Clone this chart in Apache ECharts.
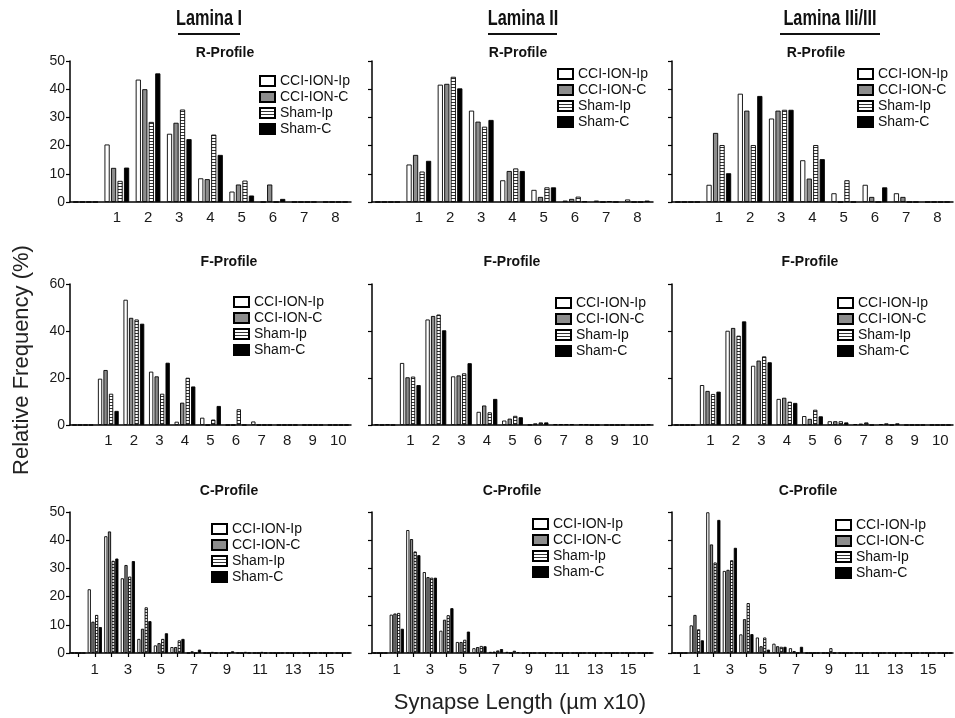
<!DOCTYPE html>
<html>
<head>
<meta charset="utf-8">
<title>Synapse length distributions</title>
<script src="https://cdn.jsdelivr.net/npm/echarts@6/dist/echarts.min.js"></script>
<style>
    html, body { margin: 0; padding: 0; background: #fff; }
    #chart { width: 955px; height: 718px; }
</style>
</head>
<body>
<div id="chart"></div>
<script>
// ---- data ----
const seriesNames = ['CCI-ION-Ip', 'CCI-ION-C', 'Sham-Ip', 'Sham-C'];
const laminaTitles = ['Lamina I', 'Lamina II', 'Lamina IIi/III'];
const profileTitles = ['R-Profile', 'F-Profile', 'C-Profile'];

const rCategories = ['0', '1', '2', '3', '4', '5', '6', '7', '8'];
const fCategories = ['0', '1', '2', '3', '4', '5', '6', '7', '8', '9', '10'];
const cCategories = ['0', '1', '2', '3', '4', '5', '6', '7', '8', '9', '10', '11', '12', '13', '14', '15', '16'];

const rYTicks = [0, 10, 20, 30, 40, 50];
const fYTicks = [0, 20, 40, 60];
const cYTicks = [0, 10, 20, 30, 40, 50];

// each panel: rows in the order of seriesNames
const rLaminaI = [
    [0, 20.4, 43.4, 24.2, 8.4, 3.7, 0, 0, 0],
    [0, 12.1, 40.0, 28.1, 8.1, 6.2, 6.2, 0, 0],
    [0, 7.5, 28.4, 32.8, 23.9, 7.6, 0, 0, 0],
    [0, 12.2, 45.6, 22.3, 16.7, 2.3, 1.1, 0, 0]
];
const rLaminaII = [
    [0, 13.3, 41.6, 32.4, 7.7, 4.3, 0.5, 0.5, 0.9],
    [0, 16.7, 41.9, 28.5, 11.0, 1.8, 1.1, 0, 0],
    [0, 10.8, 44.4, 26.7, 11.9, 5.2, 1.9, 0.3, 0],
    [0, 14.6, 40.3, 29.1, 11.0, 5.2, 0.2, 0, 0.5]
];
const rLaminaIII = [
    [0, 6.1, 38.4, 29.6, 14.8, 3.1, 6.1, 3.1, 0],
    [0, 24.5, 32.4, 32.4, 8.3, 0, 1.8, 1.8, 0],
    [0, 20.2, 20.2, 32.7, 20.2, 7.7, 0, 0, 0],
    [0, 10.2, 37.6, 32.7, 15.2, 0, 5.2, 0, 0]
];

const fLaminaI = [
    [0, 19.7, 53.3, 22.7, 1.4, 3.1, 0, 1.5, 0, 0, 0],
    [0, 23.4, 45.6, 20.7, 9.5, 0, 0, 0, 0, 0, 0],
    [0, 13.3, 44.9, 13.3, 20.1, 2.3, 6.7, 0, 0, 0, 0],
    [0, 6.0, 43.1, 26.5, 16.4, 8.1, 0, 0, 0, 0, 0]
];
const fLaminaII = [
    [0.2, 26.4, 44.9, 20.7, 5.6, 1.9, 0.1, 0.3, 0.3, 0, 0],
    [0, 20.3, 46.4, 21.1, 8.3, 2.7, 0.7, 0.3, 0.2, 0, 0],
    [0.2, 20.6, 47.0, 22.0, 5.4, 3.9, 1.1, 0.3, 0, 0, 0],
    [0, 17.0, 40.3, 26.3, 11.1, 3.3, 1.1, 0.3, 0, 0, 0.3]
];
const fLaminaIII = [
    [0, 17.0, 40.1, 25.2, 11.1, 3.8, 1.6, 0.4, 0.4, 0, 0],
    [0, 14.5, 41.3, 27.4, 11.6, 2.6, 1.6, 0.6, 0.7, 0, 0],
    [0, 13.2, 38.0, 29.2, 9.9, 6.5, 1.6, 1.1, 0, 0, 0],
    [0, 14.2, 44.1, 26.7, 9.4, 3.7, 1.1, 0, 0.7, 0, 0]
];

const cLaminaI = [
    [0, 22.6, 41.4, 26.5, 5.0, 2.7, 2.1, 0, 0, 0, 0, 0, 0, 0, 0, 0, 0],
    [0, 11.1, 43.1, 31.2, 8.6, 3.5, 2.1, 0.6, 0, 0, 0, 0, 0, 0, 0, 0, 0],
    [0, 13.5, 32.7, 27.1, 16.2, 5.0, 4.5, 0, 0.4, 0, 0.4, 0.4, 0, 0, 0, 0, 0],
    [0, 9.2, 33.5, 32.6, 11.3, 7.0, 5.0, 1.2, 0, 0.6, 0, 0, 0, 0, 0, 0, 0]
];
const cLaminaII = [
    [0, 13.6, 43.6, 28.7, 7.9, 3.9, 1.7, 0.4, 0.4, 0, 0, 0, 0, 0, 0, 0, 0],
    [0, 14.0, 40.4, 26.9, 11.8, 3.9, 2.1, 0.5, 0, 0.2, 0, 0, 0, 0, 0, 0, 0],
    [0, 14.2, 36.0, 26.7, 13.4, 4.7, 2.5, 0.9, 0.8, 0, 0.3, 0, 0, 0, 0, 0, 0],
    [0, 8.6, 34.7, 26.7, 15.9, 7.6, 2.4, 1.4, 0.3, 0, 0, 0, 0, 0, 0, 0, 0]
];
const cLaminaIII = [
    [0, 9.8, 49.9, 29.1, 6.6, 5.5, 3.3, 1.7, 0, 0, 0, 0, 0, 0, 0, 0, 0],
    [0, 13.5, 38.5, 29.5, 12.0, 2.4, 2.4, 0.7, 0, 0, 0, 0, 0, 0, 0, 0, 0],
    [0, 8.4, 32.1, 32.9, 17.7, 5.5, 2.2, 0, 0, 1.7, 0, 0, 0, 0, 0, 0, 0],
    [0, 4.5, 47.2, 37.3, 6.7, 1.2, 2.2, 2.2, 0, 0, 0, 0, 0, 0, 0, 0, 0]
];

// ---- layout ----
const FONT = '"Liberation Sans", Arial, sans-serif';
const colLeft = [70, 372, 672];
const rowTop = [61, 284, 512];
const gridW = 281;
const gridH = 141;

const rows = [
    { cats: rCategories, ticks: rYTicks, data: [rLaminaI, rLaminaII, rLaminaIII], barW: 5.2, gap: '25%', xTicks: false, label: i => i > 0 },
    { cats: fCategories, ticks: fYTicks, data: [fLaminaI, fLaminaII, fLaminaIII], barW: 4.3, gap: '28%', xTicks: false, label: i => i > 0 },
    { cats: cCategories, ticks: cYTicks, data: [cLaminaI, cLaminaII, cLaminaIII], barW: 3.2, gap: '15%', xTicks: true, label: i => i % 2 === 1 }
];

// where the profile titles and legends sit in each panel
const titleX = [[225, 518, 816], [229, 512, 810], [229, 512, 808]];
const titleY = [53, 262, 491];
const legendPos = [
    [[259, 74], [557, 67], [857, 67]],
    [[233, 295], [555, 296], [837, 296]],
    [[211, 522], [532, 517], [835, 518]]
];

function stripePattern() {
    const c = document.createElement('canvas');
    c.width = 4;
    c.height = 3;
    const ctx = c.getContext('2d');
    ctx.fillStyle = '#fff';
    ctx.fillRect(0, 0, 4, 3);
    ctx.fillStyle = '#333';
    ctx.fillRect(0, 0, 4, 1);
    return c;
}

const fills = ['#ffffff', '#8c8c8c', { image: stripePattern(), repeat: 'repeat' }, '#000000'];

let grids = [], xAxes = [], yAxes = [], series = [], legends = [], graphics = [];

rows.forEach((row, r) => {
    for (let c = 0; c < 3; c++) {
        const gi = r * 3 + c;
        const yMax = row.ticks[row.ticks.length - 1];
        const yStep = row.ticks[1] - row.ticks[0];

        grids.push({ left: colLeft[c], top: rowTop[r], width: gridW, height: gridH });

        xAxes.push({
            type: 'category',
            gridIndex: gi,
            data: row.cats,
            boundaryGap: true,
            axisLine: { lineStyle: { color: '#000', width: 1.5 } },
            axisTick: { show: row.xTicks, alignWithLabel: true, interval: 0, length: 4, lineStyle: { color: '#000', width: 1.2 } },
            axisLabel: { interval: row.label, color: '#1a1a1a', fontSize: 15, fontFamily: FONT, margin: row.xTicks ? 9 : 8 },
            splitLine: { show: false }
        });

        yAxes.push({
            type: 'value',
            gridIndex: gi,
            min: 0,
            max: yMax,
            interval: yStep,
            axisLine: { show: true, lineStyle: { color: '#000', width: 1.5 } },
            axisTick: { show: true, length: 4, lineStyle: { color: '#000', width: 1.2 } },
            axisLabel: { show: c === 0, color: '#1a1a1a', fontSize: 14, fontFamily: FONT, margin: 5 },
            splitLine: { show: false }
        });

        row.data[c].forEach((vals, si) => {
            series.push({
                name: seriesNames[si],
                type: 'bar',
                xAxisIndex: gi,
                yAxisIndex: gi,
                data: vals,
                barWidth: row.barW,
                barGap: row.gap,
                itemStyle: { color: fills[si], borderColor: '#000', borderWidth: 0.9 }
            });
        });

        legends.push({
            data: seriesNames,
            orient: 'vertical',
            left: legendPos[r][c][0],
            top: legendPos[r][c][1],
            padding: 0,
            icon: 'rect',
            itemWidth: 15,
            itemHeight: 10,
            itemGap: 2,
            selectedMode: false,
            textStyle: { color: '#111', fontSize: 14, fontFamily: FONT, lineHeight: 14 }
        });

        graphics.push({
            type: 'text',
            x: titleX[r][c],
            y: titleY[r],
            style: {
                text: profileTitles[r],
                font: 'bold 14px ' + FONT,
                fill: '#111',
                textAlign: 'center',
                textVerticalAlign: 'middle'
            }
        });
    }
});

// lamina headers (condensed bold) with underline
const headerX = [209, 523, 830];
const underline = [[178, 240], [488, 557], [780, 880]];
laminaTitles.forEach((t, i) => {
    graphics.push({
        type: 'text',
        x: headerX[i],
        y: 19,
        scaleX: 0.74,
        style: { text: t, font: 'bold 22px ' + FONT, fill: '#111', textAlign: 'center', textVerticalAlign: 'middle' }
    });
    graphics.push({
        type: 'line',
        shape: { x1: underline[i][0], y1: 34, x2: underline[i][1], y2: 34 },
        style: { stroke: '#111', lineWidth: 2 }
    });
});

// shared axis titles
graphics.push({
    type: 'text',
    x: 22,
    y: 360,
    rotation: Math.PI / 2,
    style: { text: 'Relative Frequency (%)', font: '22px ' + FONT, fill: '#222', textAlign: 'center', textVerticalAlign: 'middle' }
});
graphics.push({
    type: 'text',
    x: 520,
    y: 703,
    style: { text: 'Synapse Length (\u00b5m x10)', font: '22px ' + FONT, fill: '#222', textAlign: 'center', textVerticalAlign: 'middle' }
});

const chart = echarts.init(document.getElementById('chart'));
chart.setOption({
    backgroundColor: '#fff',
    animation: false,
    grid: grids,
    xAxis: xAxes,
    yAxis: yAxes,
    legend: legends,
    series: series,
    graphic: graphics
});
</script>
</body>
</html>
